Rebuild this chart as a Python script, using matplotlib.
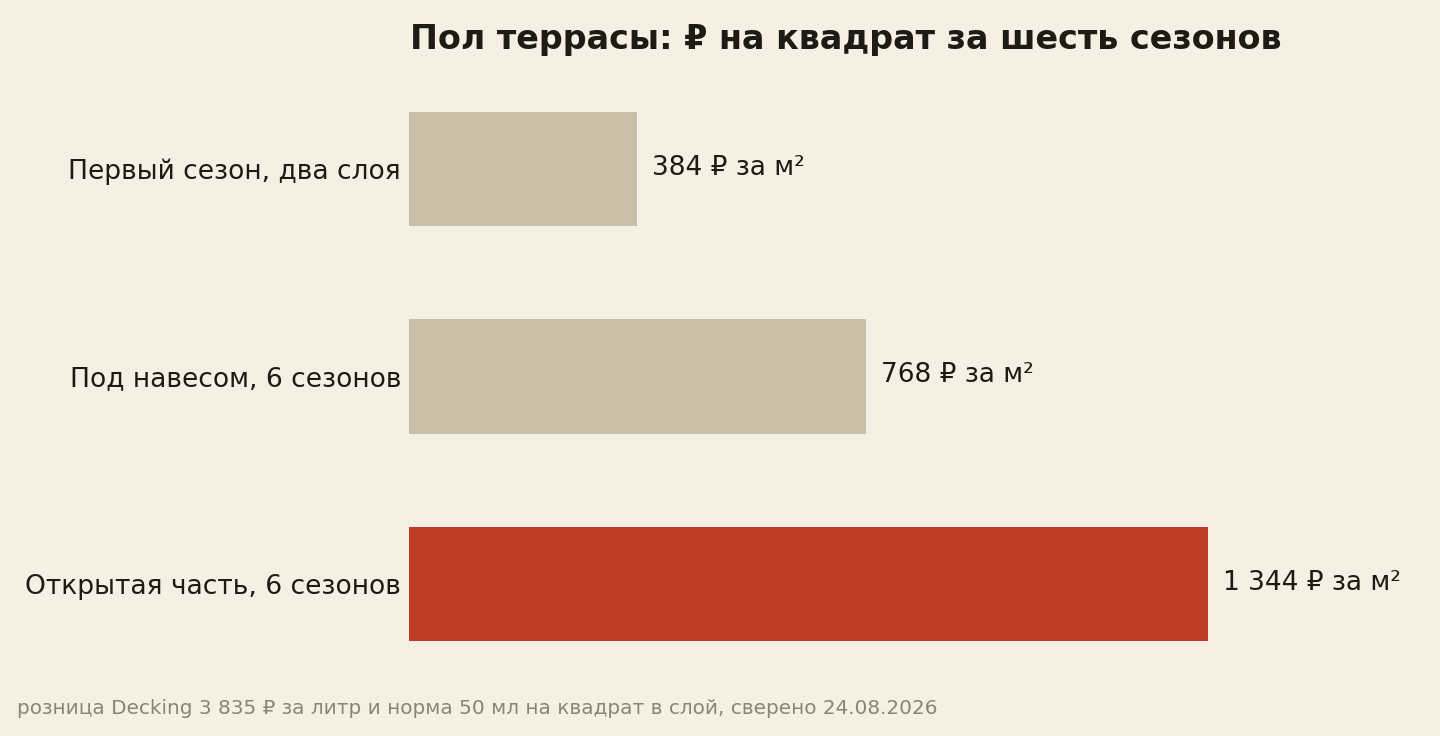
import numpy as np
import matplotlib
matplotlib.use("Agg")
import matplotlib.pyplot as plt

# data
categories = ["Первый сезон, два слоя", "Под навесом, 6 сезонов", "Открытая часть, 6 сезонов"]
values = [384, 768, 1344]
value_labels = ["384 ₽ за м²", "768 ₽ за м²", "1 344 ₽ за м²"]
bar_colors = ["#C9BFA8", "#C9BFA8", "#BC3C26"]

title = "Пол террасы: ₽ на квадрат за шесть сезонов"
footnote = "розница Decking 3 835 ₽ за литр и норма 50 мл на квадрат в слой, сверено 24.08.2026"

bg = "#F6EFE3"
ink = "#1E1A14"

plt.rcParams["font.family"] = ["DejaVu Sans"]

W, H = 1440, 736
fig = plt.figure(figsize=(W / 100, H / 100), dpi=100, facecolor=bg)

# axes placed in pixel terms: bars start at x=409, longest ends at x=1208
left, right = 409, 1208
top_px, bot_px = 65.25, 687.75
ax = fig.add_axes([left / W, 1 - bot_px / H, (right - left) / W, (bot_px - top_px) / H])
ax.set_facecolor(bg)

y = np.arange(len(categories))
ax.barh(y, values, height=0.55, color=bar_colors)
ax.set_xlim(0, max(values))
ax.set_ylim(len(categories) - 0.5, -0.5)

for yi, v, lab in zip(y, values, value_labels):
    ax.annotate(lab, xy=(v, yi), xytext=(15, 1), textcoords="offset pixels",
                va="center", ha="left", fontsize=19, color=ink, clip_on=False)

for yi, cat in zip(y, categories):
    ax.annotate(cat, xy=(0, yi), xytext=(-8, -3), textcoords="offset pixels",
                va="center", ha="right", fontsize=19.1, color=ink, clip_on=False)

for s in ax.spines.values():
    s.set_visible(False)
ax.set_xticks([])
ax.set_yticks([])

fig.text(410 / W, 1 - 39 / H, title, ha="left", va="center",
         fontsize=24, fontweight="bold", color=ink)
fig.text(17 / W, 1 - 708 / H, footnote, ha="left", va="center",
         fontsize=14.4, color="#8A8377")

fig.savefig("out.png", dpi=100, facecolor=bg)
